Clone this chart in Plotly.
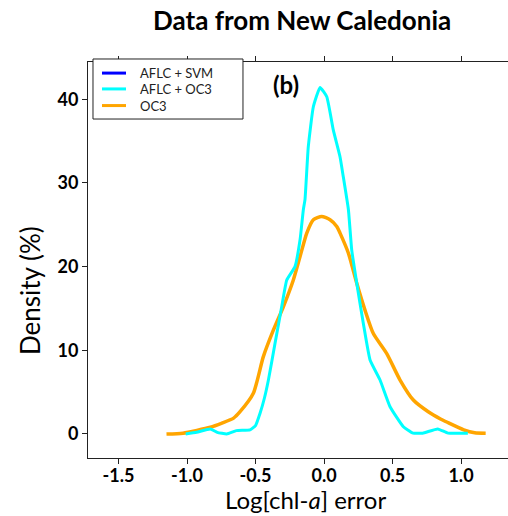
import plotly.graph_objects as go

# ---- data ----
series_names = ["AFLC + SVM", "AFLC + OC3", "OC3"]
series_colors = ["#0000FF", "#00FFFF", "#FFA500"]

# AFLC + SVM: not visible in the reference (legend entry only)
svm_x = []
svm_y = []

aflc_x = [-1.01, -0.93, -0.83, -0.78, -0.71, -0.64, -0.54, -0.50, -0.467, -0.435, -0.406,
          -0.358, -0.309, -0.272, -0.212, -0.175, -0.151, -0.139, -0.115, -0.078, -0.029,
          0.02, 0.068, 0.117, 0.141, 0.178, 0.202, 0.239, 0.287, 0.336, 0.409, 0.482,
          0.579, 0.65, 0.72, 0.83, 0.905, 1.05]
aflc_y = [0.0, 0.2, 0.6, 0.2, 0.0, 0.4, 0.5, 1.0, 2.47, 4.3, 6.45,
          10.8, 15.2, 18.4, 20.0, 23.2, 26.8, 28.0, 34.3, 39.1, 41.4,
          40.3, 36.3, 33.1, 30.7, 26.8, 22.0, 18.0, 13.2, 8.84, 6.45, 3.26,
          0.87, 0.1, 0.1, 0.6, 0.1, 0.1]

oc3_x = [-1.15, -1.03, -0.83, -0.745, -0.66, -0.613, -0.516, -0.443, -0.37, -0.297,
         -0.224, -0.175, -0.126, -0.078, -0.017, 0.044, 0.093, 0.117, 0.178, 0.239,
         0.299, 0.36, 0.458, 0.555, 0.652, 0.761, 0.85, 0.90, 1.02, 1.10, 1.18]
oc3_y = [0.0, 0.1, 0.8, 1.3, 1.9, 2.66, 4.86, 9.24, 12.4, 15.2,
         18.4, 21.2, 24.0, 25.6, 26.0, 25.6, 24.8, 24.0, 21.6, 18.0,
         14.8, 12.0, 9.6, 6.45, 4.06, 2.66, 1.8, 1.4, 0.5, 0.15, 0.1]

x_ticks = [-1.5, -1.0, -0.5, 0.0, 0.5, 1.0]
y_ticks = [0, 10, 20, 30, 40]

FONT = "Lato"

fig = go.Figure()
fig.add_trace(go.Scatter(x=svm_x, y=svm_y, mode="lines", name=series_names[0],
                         line=dict(color=series_colors[0], width=3), showlegend=False))
fig.add_trace(go.Scatter(x=oc3_x, y=oc3_y, mode="lines", name=series_names[2],
                         line=dict(color=series_colors[2], width=3.5, shape="spline",
                                   smoothing=0.6), showlegend=False))
fig.add_trace(go.Scatter(x=aflc_x, y=aflc_y, mode="lines", name=series_names[1],
                         line=dict(color=series_colors[1], width=3, shape="spline",
                                   smoothing=0.4), showlegend=False))

axis_common = dict(showgrid=False, zeroline=False, showline=True, linecolor="#222",
                   linewidth=1, ticks="outside", ticklen=5, tickwidth=1, tickcolor="#222",
                   tickfont=dict(family=FONT, size=18, color="#000", weight="bold"))

fig.update_xaxes(range=[-1.723, 1.343], tickvals=x_ticks,
                 ticktext=[f"{v:.1f}" for v in x_ticks], mirror="ticks",
                 ticklabelstandoff=-4, **axis_common)
fig.update_yaxes(range=[-2.87, 44.45], tickvals=y_ticks,
                 ticktext=[str(v) for v in y_ticks], mirror=False, **axis_common)

# ---- legend box (drawn in paper coordinates from the series lists) ----
shapes = [dict(type="rect", xref="paper", yref="paper", x0=0.0119, x1=0.369,
               y0=0.856, y1=1.0076, line=dict(color="#222", width=1), fillcolor="white",
               layer="above")]
annotations = []
leg_y = [0.972, 0.932, 0.890]
for name, color, yy in zip(series_names, series_colors, leg_y):
    shapes.append(dict(type="line", xref="paper", yref="paper", x0=0.0333, x1=0.0905,
                       y0=yy, y1=yy, line=dict(color=color, width=3), layer="above"))
    annotations.append(dict(text=name, x=0.119, y=yy, xref="paper", yref="paper",
                            showarrow=False, xanchor="left", yanchor="middle",
                            font=dict(family=FONT, size=13, color="#222")))

annotations += [
    dict(text="<b>Data from New Caledonia</b>", x=0.5095, y=1.106, xref="paper", yref="paper",
         showarrow=False, font=dict(family=FONT, size=26, color="#000"),
         xanchor="center", yanchor="middle"),
    dict(text="<b>(b)</b>", x=0.471, y=0.942, xref="paper", yref="paper",
         showarrow=False, font=dict(family=FONT, size=24, color="#000"),
         xanchor="center", yanchor="middle"),
    dict(text="Log[chl-<i>a</i>] error", x=0.5167, y=-0.106, xref="paper", yref="paper",
         showarrow=False, font=dict(family=FONT, size=24, color="#000"),
         xanchor="center", yanchor="middle"),
    dict(text="Density (%)", x=-0.138, y=0.4217, xref="paper", yref="paper",
         showarrow=False, textangle=-90, font=dict(family=FONT, size=26, color="#000"),
         xanchor="center", yanchor="middle"),
]

fig.update_layout(
    width=508, height=516,
    margin=dict(l=88, r=0, t=62, b=58),
    plot_bgcolor="white", paper_bgcolor="white",
    font=dict(family=FONT, color="#000"),
    shapes=shapes,
    annotations=annotations,
)

fig.write_html("out.html")
